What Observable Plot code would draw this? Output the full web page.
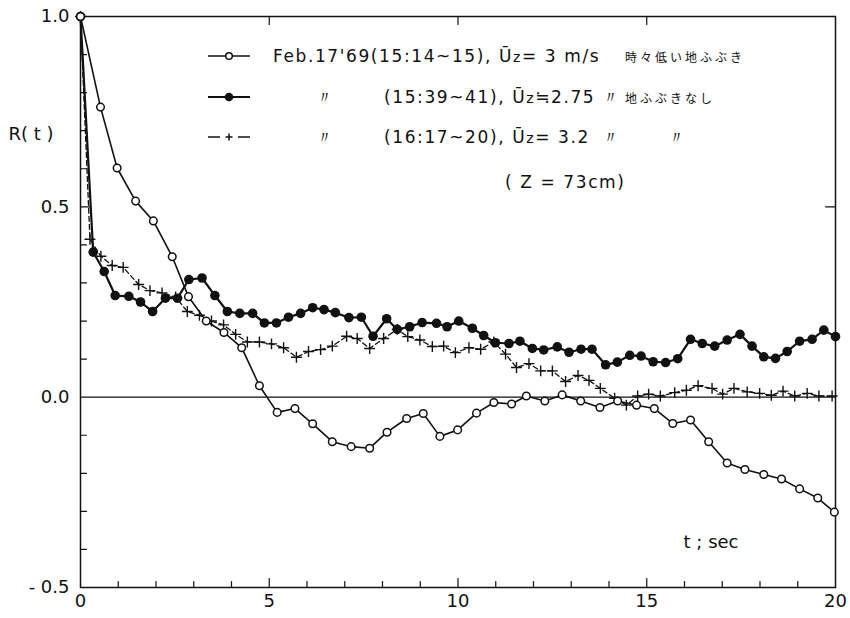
<!DOCTYPE html>
<html><head><meta charset="utf-8">
<script src="https://cdn.jsdelivr.net/npm/d3@7"></script>
<script src="https://cdn.jsdelivr.net/npm/@observablehq/plot@0.6"></script>
<style>
body{margin:0;background:#fff;}
#wrap{position:relative;width:850px;height:618px;overflow:hidden;}
.lg{position:absolute;font-family:"DejaVu Sans",sans-serif;font-size:17px;letter-spacing:1.6px;color:#111;white-space:nowrap;line-height:20px;}
.jp{font-family:"Noto Sans CJK JP",sans-serif;font-size:12px;letter-spacing:3px;}
.mk{position:absolute;}
</style></head><body><div id="wrap"></div>
<script>
// ---- data ----
const tOpen = [0,0.53,0.97,1.46,1.93,2.43,2.86,3.33,3.80,4.27,4.74,5.21,5.68,6.15,6.67,7.17,7.66,8.12,8.64,9.08,9.52,9.99,10.49,10.95,11.42,11.81,12.30,12.76,13.25,13.76,14.23,14.73,15.20,15.69,16.16,16.64,17.13,17.60,18.10,18.57,19.05,19.53,19.97];
const rOpen = [1.0,0.762,0.602,0.515,0.463,0.369,0.264,0.20,0.17,0.13,0.03,-0.04,-0.03,-0.07,-0.117,-0.130,-0.134,-0.092,-0.056,-0.043,-0.103,-0.086,-0.042,-0.014,-0.018,0.003,-0.010,0.006,-0.010,-0.027,-0.010,-0.021,-0.030,-0.069,-0.060,-0.117,-0.173,-0.190,-0.203,-0.215,-0.241,-0.265,-0.302];

const tFilled = [0,0.336,0.628,0.919,1.28,1.59,1.91,2.25,2.57,2.87,3.22,3.56,3.89,4.22,4.56,4.87,5.19,5.51,5.83,6.15,6.45,6.75,7.11,7.44,7.75,8.11,8.39,8.72,9.05,9.43,9.71,10.02,10.38,10.68,10.99,11.35,11.64,11.97,12.27,12.63,12.94,13.26,13.55,13.91,14.22,14.55,14.85,15.17,15.50,15.82,16.16,16.47,16.80,17.13,17.47,17.79,18.10,18.41,18.72,19.05,19.38,19.69,20.0];
const rFilled = [1.0,0.381,0.330,0.267,0.265,0.25,0.225,0.26,0.26,0.309,0.313,0.267,0.225,0.22,0.22,0.195,0.195,0.21,0.22,0.235,0.23,0.222,0.209,0.210,0.160,0.206,0.178,0.185,0.196,0.194,0.185,0.200,0.181,0.162,0.143,0.141,0.147,0.128,0.124,0.132,0.118,0.126,0.126,0.085,0.092,0.110,0.108,0.093,0.091,0.101,0.152,0.141,0.134,0.150,0.165,0.134,0.106,0.102,0.120,0.147,0.152,0.176,0.159];

const tCross = [0,0.25,0.54,0.84,1.13,1.54,1.84,2.16,2.52,2.83,3.15,3.47,3.79,4.11,4.42,4.74,5.06,5.38,5.72,6.04,6.36,6.67,7.05,7.33,7.66,8.03,8.39,8.67,8.99,9.32,9.62,9.93,10.29,10.60,10.95,11.26,11.55,11.88,12.19,12.50,12.85,13.18,13.47,13.77,14.15,14.46,14.76,15.05,15.36,15.74,16.05,16.36,16.73,17.01,17.31,17.66,17.99,18.30,18.61,18.92,19.25,19.56,19.91];
const rCross = [1.0,0.415,0.37,0.346,0.341,0.296,0.280,0.274,0.263,0.225,0.215,0.20,0.19,0.165,0.145,0.145,0.14,0.13,0.105,0.12,0.125,0.134,0.160,0.154,0.128,0.154,0.178,0.159,0.150,0.133,0.134,0.117,0.130,0.126,0.145,0.113,0.078,0.088,0.069,0.069,0.041,0.057,0.044,0.023,-0.003,-0.021,0.003,0.008,0.003,0.012,0.018,0.030,0.023,0.008,0.023,0.014,0.010,0.005,0.016,0.003,0.010,0.003,0.003];

const xLabelTicks = [0,5,10,15,20];
const xMinorTicks = [1,2,3,4,6,7,8,9,11,12,13,14,16,17,18,19];
const xMajorTicks = [5,10,15];
const yLabelTicks = [1.0,0.5,0.0,-0.5];
const yMinorTicks = [0.9,0.8,0.7,0.6,0.4,0.3,0.2,0.1,-0.1,-0.2,-0.3,-0.4];
const yMajorTicks = [0.5];

const open = tOpen.map((t,i)=>({t, r:rOpen[i]}));
const filled = tFilled.map((t,i)=>({t, r:rFilled[i]}));
const cross = tCross.map((t,i)=>({t, r:rCross[i]}));

const tickShape = {draw(ctx, l){ ctx.moveTo(0,0); ctx.lineTo(0,-l); }};

const chart = Plot.plot({
  width: 850, height: 618,
  marginLeft: 80, marginRight: 15, marginTop: 16, marginBottom: 31,
  x: {domain: [0,20]},
  y: {domain: [-0.5,1.0]},
  style: {fontFamily: "DejaVu Sans, sans-serif", fontSize: "17px", color: "#111", background: "white"},
  marks: [
    Plot.frame({stroke: "#111", strokeWidth: 1.5}),
    Plot.ruleY([0], {stroke: "#111", strokeWidth: 1.3}),
    // inward ticks
    Plot.vector(xMinorTicks, {x: d=>d, y: -0.5, length: 6, rotate: 0, anchor: "start", shape: tickShape, stroke: "#111", strokeWidth: 1.2}),
    Plot.vector(xMajorTicks, {x: d=>d, y: -0.5, length: 9, rotate: 0, anchor: "start", shape: tickShape, stroke: "#111", strokeWidth: 1.2}),
    Plot.vector(xMajorTicks, {x: d=>d, y: 1.0, length: 8, rotate: 180, anchor: "start", shape: tickShape, stroke: "#111", strokeWidth: 1.2}),
    Plot.vector(yMinorTicks, {x: 0, y: d=>d, length: 6, rotate: 90, anchor: "start", shape: tickShape, stroke: "#111", strokeWidth: 1.2}),
    Plot.vector(yMajorTicks, {x: 0, y: d=>d, length: 10, rotate: 90, anchor: "start", shape: tickShape, stroke: "#111", strokeWidth: 1.2}),
    Plot.vector(yMajorTicks, {x: 20, y: d=>d, length: 10, rotate: -90, anchor: "start", shape: tickShape, stroke: "#111", strokeWidth: 1.2}),
    Plot.axisX(xLabelTicks, {tickSize: 0, tickPadding: 7, label: null, fontSize: 18, tickFormat: d=>String(d)}),
    Plot.axisY(yLabelTicks, {tickSize: 0, tickPadding: 11, label: null, fontSize: 18, tickFormat: d=> d<0 ? "- 0.5" : d.toFixed(1)}),
    // series
    Plot.line(cross, {x: "t", y: "r", stroke: "#111", strokeWidth: 1.3, strokeDasharray: "5,3"}),
    Plot.dot(cross, {x: "t", y: "r", symbol: "plus", r: 3.6, stroke: "#111", strokeWidth: 1.4}),
    Plot.line(filled, {x: "t", y: "r", stroke: "#111", strokeWidth: 2.2}),
    Plot.dot(filled, {x: "t", y: "r", r: 4.8, fill: "#111", stroke: "none"}),
    Plot.line(open, {x: "t", y: "r", stroke: "#111", strokeWidth: 1.6}),
    Plot.dot(open, {x: "t", y: "r", r: 3.8, fill: "white", stroke: "#111", strokeWidth: 1.5}),
    // axis titles
    Plot.text(["R( t )"], {frameAnchor: "top-left", dx: -72, dy: 111, textAnchor: "start", fontSize: 18, text: d=>d}),
    Plot.text(["t ; sec"], {frameAnchor: "bottom-right", dx: -97, dy: -40, textAnchor: "end", fontSize: 18, text: d=>d})
  ]
});
const wrap = document.getElementById("wrap");
wrap.appendChild(chart);

function addText(html, left, cy, cls){
  const d = document.createElement("div");
  d.className = "lg" + (cls ? " " + cls : "");
  d.innerHTML = html;
  d.style.left = left + "px";
  d.style.top = (cy - 10) + "px";
  wrap.appendChild(d);
}
function addMarker(kind, cx, cy){
  const ns = "http://www.w3.org/2000/svg";
  const s = document.createElementNS(ns, "svg");
  s.setAttribute("class","mk"); s.setAttribute("width","46"); s.setAttribute("height","14");
  s.style.left = (cx - 23) + "px"; s.style.top = (cy - 7) + "px";
  let inner = "";
  if (kind === "open") inner = '<line x1="2" y1="7" x2="44" y2="7" stroke="#111" stroke-width="1.6"/><circle cx="23" cy="7" r="3.3" fill="white" stroke="#111" stroke-width="1.5"/>';
  if (kind === "filled") inner = '<line x1="2" y1="7" x2="44" y2="7" stroke="#111" stroke-width="2"/><circle cx="23" cy="7" r="4.3" fill="#111"/>';
  if (kind === "cross") inner = '<line x1="2" y1="7" x2="14" y2="7" stroke="#111" stroke-width="1.5"/><line x1="32" y1="7" x2="44" y2="7" stroke="#111" stroke-width="1.5"/><path d="M19.5 7H26.5M23 3.5V10.5" stroke="#111" stroke-width="1.5"/>';
  s.innerHTML = inner;
  wrap.appendChild(s);
}
const U = 'Ū<span style="font-size:14px">z</span>';
addMarker("open", 229, 56);
addText("Feb.17'69(15:14~15), " + U + "= 3 m/s", 273, 56);
addText("時々低い地ふぶき", 625, 57, "jp");
addMarker("filled", 229, 97);
addText("〃", 316, 97);
addText("(15:39~41), " + U + "≒2.75", 384, 97);
addText("〃", 602, 97);
addText("地ふぶきなし", 625, 98, "jp");
addMarker("cross", 229, 137);
addText("〃", 316, 137);
addText("(16:17~20), " + U + "= 3.2", 384, 137);
addText("〃", 602, 137);
addText("〃", 668, 137);
addText("( Z = 73cm)", 505, 182);
</script></body></html>
